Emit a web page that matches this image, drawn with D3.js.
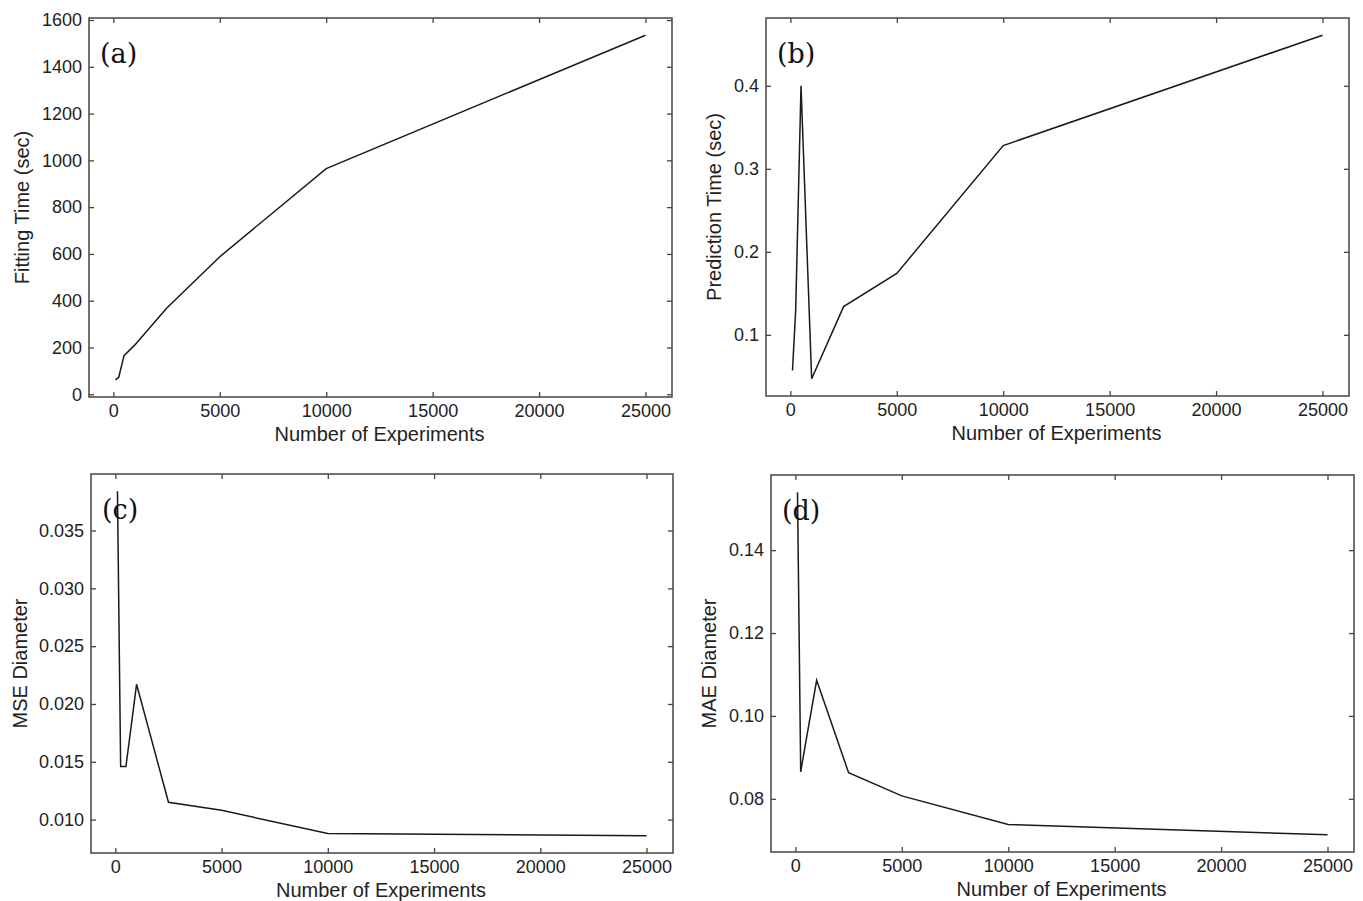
<!DOCTYPE html>
<html>
<head>
<meta charset="utf-8">
<script src="https://cdn.jsdelivr.net/npm/d3@7"></script>
<style>
  body { margin: 0; background: #fff; }
  svg { display: block; }
  .tick text { font-family: "Liberation Sans", Arial, sans-serif; font-size: 18px; fill: #222; }
  .axis-title { font-family: "Liberation Sans", Arial, sans-serif; font-size: 20px; fill: #222; }
  .panel-label { font-family: "DejaVu Serif", "Liberation Serif", serif; font-size: 27px; fill: #111; }
</style>
</head>
<body>
<svg id="chart" width="1363" height="901"></svg>
<script>
// ---- data ----
const experiments = [100, 250, 500, 1000, 2500, 5000, 10000, 25000];
const fittingTime = [62, 72, 165, 210, 368, 588, 965, 1535];
const predictionTime = [0.057, 0.13, 0.400, 0.047, 0.134, 0.174, 0.328, 0.461];
const mseDiameter = [0.0384, 0.0146, 0.0146, 0.0217, 0.0115, 0.0108, 0.0088, 0.0086];
const maeDiameter = [0.154, 0.0865, 0.094, 0.1086, 0.0863, 0.0807, 0.0738, 0.0713];

const xTicks = [0, 5000, 10000, 15000, 20000, 25000];
const yTicksA = [0, 200, 400, 600, 800, 1000, 1200, 1400, 1600];
const yTicksB = [0.1, 0.2, 0.3, 0.4];
const yTicksC = [0.010, 0.015, 0.020, 0.025, 0.030, 0.035];
const yTicksD = [0.08, 0.10, 0.12, 0.14];

const xTitle = "Number of Experiments";
const panelLabels = ["(a)", "(b)", "(c)", "(d)"];
const yTitles = ["Fitting Time (sec)", "Prediction Time (sec)", "MSE Diameter", "MAE Diameter"];

// ---- layout ----
const panels = [
  { values: fittingTime, yTicks: yTicksA, fmt: d3.format("d"), box: { l: 89, r: 672, t: 18, b: 397 }, titleX: 22 },
  { values: predictionTime, yTicks: yTicksB, fmt: d3.format(".1f"), box: { l: 766, r: 1349, t: 18, b: 396 }, titleX: 714 },
  { values: mseDiameter, yTicks: yTicksC, fmt: d3.format(".3f"), box: { l: 91, r: 673, t: 474, b: 853 }, titleX: 20 },
  { values: maeDiameter, yTicks: yTicksD, fmt: d3.format(".2f"), box: { l: 771, r: 1354, t: 475, b: 852 }, titleX: 709 }
];

const svg = d3.select("#chart");

function padded(ext) {
  const m = (ext[1] - ext[0]) * 0.05;
  return [ext[0] - m, ext[1] + m];
}

panels.forEach((p, i) => {
  const b = p.box;
  const x = d3.scaleLinear().domain(padded(d3.extent(experiments))).range([b.l, b.r]);
  const y = d3.scaleLinear().domain(padded(d3.extent(p.values))).range([b.b, b.t]);
  const g = svg.append("g");

  const styleAxis = sel => {
    sel.select(".domain").remove();
    sel.selectAll(".tick line").attr("stroke", "#444").attr("stroke-width", 1.3);
  };

  g.append("g").attr("transform", `translate(0,${b.b})`)
    .call(d3.axisBottom(x).tickValues(xTicks).tickFormat(d3.format("d")).tickSize(-5).tickPadding(7))
    .call(styleAxis);
  g.append("g").attr("transform", `translate(0,${b.t})`)
    .call(d3.axisTop(x).tickValues(xTicks).tickFormat("").tickSize(-5))
    .call(styleAxis);
  g.append("g").attr("transform", `translate(${b.l},0)`)
    .call(d3.axisLeft(y).tickValues(p.yTicks).tickFormat(p.fmt).tickSize(-5).tickPadding(7))
    .call(styleAxis);
  g.append("g").attr("transform", `translate(${b.r},0)`)
    .call(d3.axisRight(y).tickValues(p.yTicks).tickFormat("").tickSize(-5))
    .call(styleAxis);

  g.append("rect")
    .attr("x", b.l).attr("y", b.t)
    .attr("width", b.r - b.l).attr("height", b.b - b.t)
    .attr("fill", "none").attr("stroke", "#444").attr("stroke-width", 1.5);

  const line = d3.line().x((d, j) => x(experiments[j])).y(d => y(d));
  g.append("path").datum(p.values)
    .attr("d", line)
    .attr("fill", "none").attr("stroke", "#1a1a1a").attr("stroke-width", 1.5)
    .attr("stroke-linejoin", "miter");

  g.append("text").attr("class", "axis-title")
    .attr("x", (b.l + b.r) / 2 - 1).attr("y", b.b + 44)
    .attr("text-anchor", "middle").text(xTitle);

  g.append("text").attr("class", "axis-title")
    .attr("transform", `translate(${p.titleX + 7},${(b.t + b.b) / 2}) rotate(-90)`)
    .attr("text-anchor", "middle").text(yTitles[i]);

  g.append("text").attr("class", "panel-label")
    .attr("x", b.l + 11).attr("y", b.t + 45)
    .text(panelLabels[i]);
});
</script>
</body>
</html>
